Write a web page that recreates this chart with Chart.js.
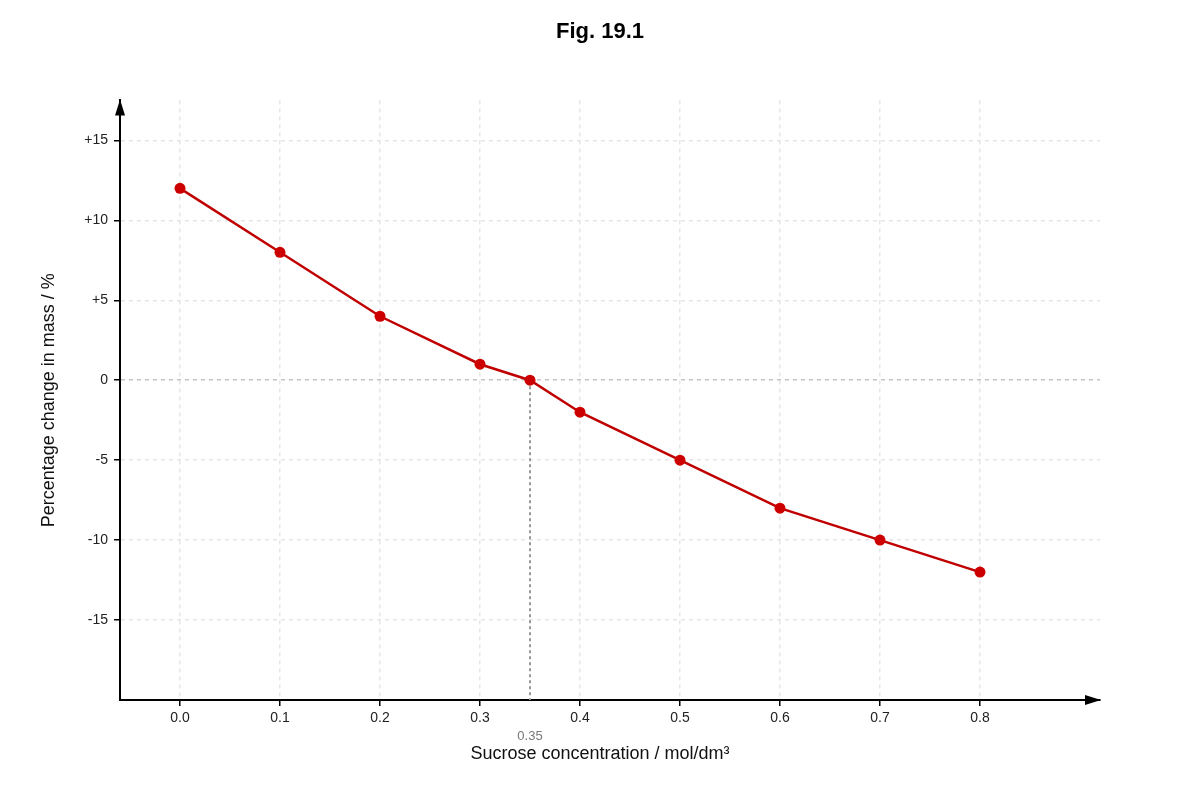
<!DOCTYPE html>
<html>
<head>
<meta charset="utf-8">
<script src="https://cdn.jsdelivr.net/npm/chart.js@4/dist/chart.umd.min.js"></script>
<style>
  html, body { margin: 0; padding: 0; background: #fff; }
  #wrap { width: 1200px; height: 800px; position: relative; }
</style>
</head>
<body>
<div id="wrap"><canvas id="c" width="1200" height="800"></canvas></div>
<script>
// ---- data ----
const concentrations = [0.0, 0.1, 0.2, 0.3, 0.35, 0.4, 0.5, 0.6, 0.7, 0.8];
const massChange = [12, 8, 4, 1, 0, -2, -5, -8, -10, -12];
const xTickValues = [0.0, 0.1, 0.2, 0.3, 0.4, 0.5, 0.6, 0.7, 0.8];
const yTickValues = [-15, -10, -5, 0, 5, 10, 15];
const interceptX = 0.35;
const interceptLabel = '0.35';
const chartTitle = 'Fig. 19.1';
const xAxisTitle = 'Sucrose concentration / mol/dm³';
const yAxisTitle = 'Percentage change in mass / %';

Chart.defaults.font.family = '"Liberation Sans", Arial, sans-serif';
Chart.defaults.color = '#222';

const points = concentrations.map((x, i) => ({ x: x, y: massChange[i] }));

const extras = {
  id: 'extras',
  afterDatasetsDraw(chart) {
    const { ctx, scales: { x, y } } = chart;
    const px = x.getPixelForValue(interceptX);
    const py0 = y.getPixelForValue(0);
    ctx.save();
    // dotted drop line
    ctx.strokeStyle = '#999';
    ctx.lineWidth = 2;
    ctx.setLineDash([3, 3]);
    ctx.beginPath();
    ctx.moveTo(px, py0 + 6);
    ctx.lineTo(px, y.bottom);
    ctx.stroke();
    ctx.setLineDash([]);
    // label
    ctx.fillStyle = '#777';
    ctx.font = '13px "Liberation Sans", Arial, sans-serif';
    ctx.textAlign = 'center';
    ctx.textBaseline = 'middle';
    ctx.fillText(interceptLabel, px, y.bottom + 36);
    // x-axis title, centred on the page
    ctx.fillStyle = '#111';
    ctx.font = '18px "Liberation Sans", Arial, sans-serif';
    ctx.fillText(xAxisTitle, chart.width / 2, y.bottom + 54);
    // arrows
    ctx.fillStyle = '#000';
    ctx.beginPath();
    ctx.moveTo(x.left, y.top - 1);
    ctx.lineTo(x.left - 5, y.top + 15);
    ctx.lineTo(x.left + 5, y.top + 15);
    ctx.closePath();
    ctx.fill();
    ctx.beginPath();
    ctx.moveTo(x.right + 1, y.bottom);
    ctx.lineTo(x.right - 15, y.bottom - 5);
    ctx.lineTo(x.right - 15, y.bottom + 5);
    ctx.closePath();
    ctx.fill();
    ctx.restore();
  }
};

new Chart(document.getElementById('c'), {
  type: 'scatter',
  data: {
    datasets: [{
      data: points,
      showLine: true,
      borderColor: '#c00000',
      backgroundColor: '#cc0000',
      borderWidth: 2.5,
      pointRadius: 5.5,
      pointHoverRadius: 5.5,
      pointBorderWidth: 0,
      tension: 0
    }]
  },
  plugins: [extras],
  options: {
    responsive: false,
    animation: false,
    layout: { padding: 0 },
    plugins: {
      legend: { display: false },
      tooltip: { enabled: false },
      title: {
        display: true,
        text: chartTitle,
        color: '#000',
        font: { size: 22, weight: 'bold' },
        padding: { top: 19, bottom: 55 }
      }
    },
    scales: {
      x: {
        type: 'linear',
        min: -0.06,
        max: 0.92,
        afterBuildTicks(scale) { scale.ticks = xTickValues.map(v => ({ value: v })); },
        afterFit(scale) { scale.height = 100; },
        ticks: {
          callback: v => Number(v).toFixed(1),
          font: { size: 14 },
          color: '#222',
          padding: 4,
          autoSkip: false,
          maxRotation: 0
        },
        grid: {
          color: '#e6e6e6',
          lineWidth: 1.5,
          tickColor: '#000',
          tickLength: 6,
          tickWidth: 1.5
        },
        border: { color: '#000', width: 2, dash: [4, 4] },
        title: { display: false, text: xAxisTitle }
      },
      y: {
        type: 'linear',
        min: -20,
        max: 17.5,
        afterBuildTicks(scale) { scale.ticks = yTickValues.map(v => ({ value: v })); },
        afterFit(scale) { scale.width = 120; },
        ticks: {
          callback: v => (v > 0 ? '+' + v : String(v)),
          font: { size: 14 },
          color: '#222',
          padding: 6,
          autoSkip: false
        },
        grid: {
          color: ctx => (ctx.tick && ctx.tick.value === 0 ? '#c4c4c4' : '#e6e6e6'),
          lineWidth: 1.5,
          tickColor: '#000',
          tickLength: 6,
          tickWidth: 1.5
        },
        border: { color: '#000', width: 2, dash: [4, 4] },
        title: {
          display: true,
          text: yAxisTitle,
          color: '#111',
          font: { size: 18 },
          padding: { top: 38, bottom: 38 }
        }
      },
      spacer: {
        type: 'linear',
        position: 'right',
        display: true,
        min: 0,
        max: 1,
        afterFit(scale) { scale.width = 100; },
        ticks: { display: false },
        grid: { display: false, drawOnChartArea: false },
        border: { display: false },
        title: { display: false }
      }
    }
  }
});
</script>
</body>
</html>
